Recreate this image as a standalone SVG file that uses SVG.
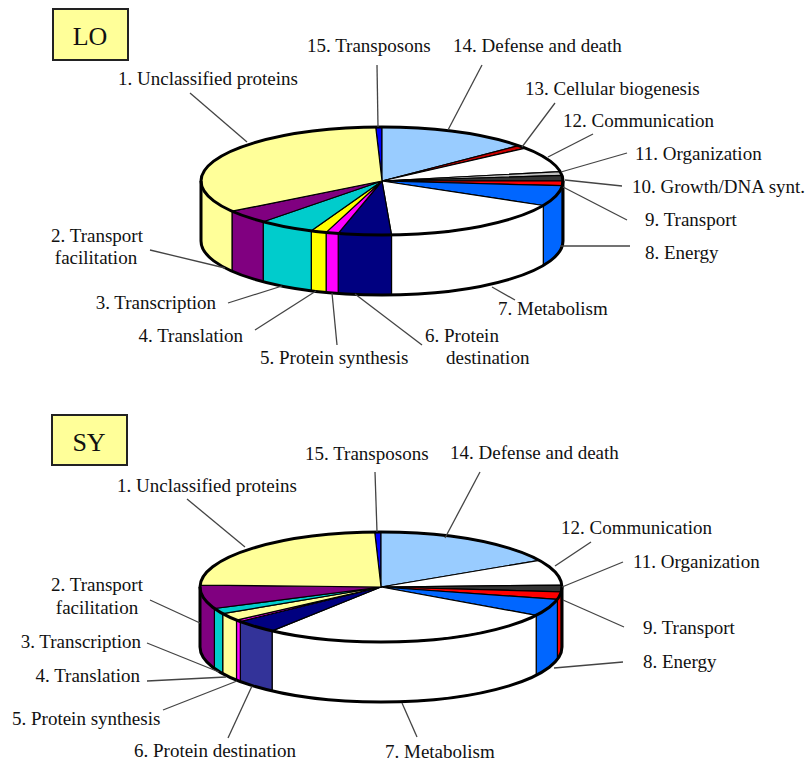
<svg xmlns="http://www.w3.org/2000/svg" width="805" height="763" viewBox="0 0 805 763">
<style>
.t{font-family:"Liberation Serif","Times New Roman",serif;font-size:19px;fill:#111}
.bt{font-family:"Liberation Serif","Times New Roman",serif;font-size:26px;fill:#111;text-anchor:middle}
.box{fill:#FFFF99;stroke:#222;stroke-width:2}
.s{stroke:#000;stroke-width:1.2;stroke-linejoin:round}
.ol{fill:none;stroke:#000;stroke-width:3}
.ld{fill:none;stroke:#444;stroke-width:1.3}
.e{text-anchor:end}
.m{text-anchor:middle}
</style>
<rect width="805" height="763" fill="#fff"/>

<!-- ===== LO ===== -->
<g id="lo-box"><rect class="box" x="53" y="9" width="75" height="51"/><text class="bt" x="90" y="45">LO</text></g>

<g id="lo-pie">
<g id="lo-s15"><path class="s" fill="#0000FF" d="M382 181 L375.7 127 A181 54 0 0 1 382 127 Z"/></g>
<g id="lo-s14"><path class="s" fill="#99CCFF" d="M382 181 L382 127 A181 54 0 0 1 518.6 145.6 Z"/></g>
<g id="lo-s13"><path class="s" fill="#CC0000" d="M382 181 L518.6 145.6 A181 54 0 0 1 525.6 148.1 Z"/></g>
<g id="lo-s12"><path class="s" fill="#FFFFFF" d="M382 181 L525.6 148.1 A181 54 0 0 1 560.2 171.6 Z"/></g>
<g id="lo-s11"><path class="s" fill="#C0C0C0" d="M382 181 L560.2 171.6 A181 54 0 0 1 562 175.4 Z"/></g>
<g id="lo-s10"><path class="s" fill="#333333" d="M382 181 L562 175.4 A181 54 0 0 1 563 181 Z"/></g>
<g id="lo-s9"><path class="s" fill="#FF0000" d="M382 181 L563 181 A181 54 0 0 1 562.3 185.7 Z"/>
<path class="s" fill="#FF0000" d="M563 181 L563 241 A181 54 0 0 1 562.3 245.7 L562.3 185.7 A181 54 0 0 0 563 181 Z"/></g>
<g id="lo-s8"><path class="s" fill="#0066FF" d="M382 181 L562.3 185.7 A181 54 0 0 1 543.3 205.5 Z"/>
<path class="s" fill="#0066FF" d="M562.3 185.7 L562.3 245.7 A181 54 0 0 1 543.3 265.5 L543.3 205.5 A181 54 0 0 0 562.3 185.7 Z"/></g>
<g id="lo-s7"><path class="s" fill="#FFFFFF" d="M382 181 L543.3 205.5 A181 54 0 0 1 391.5 234.9 Z"/>
<path class="s" fill="#FFFFFF" d="M543.3 205.5 L543.3 265.5 A181 54 0 0 1 391.5 294.9 L391.5 234.9 A181 54 0 0 0 543.3 205.5 Z"/></g>
<g id="lo-s6"><path class="s" fill="#000080" d="M382 181 L391.5 234.9 A181 54 0 0 1 338.2 233.4 Z"/>
<path class="s" fill="#000080" d="M391.5 234.9 L391.5 294.9 A181 54 0 0 1 338.2 293.4 L338.2 233.4 A181 54 0 0 0 391.5 234.9 Z"/></g>
<g id="lo-s5"><path class="s" fill="#FF00FF" d="M382 181 L338.2 233.4 A181 54 0 0 1 326.1 232.4 Z"/>
<path class="s" fill="#FF00FF" d="M338.2 233.4 L338.2 293.4 A181 54 0 0 1 326.1 292.4 L326.1 232.4 A181 54 0 0 0 338.2 233.4 Z"/></g>
<g id="lo-s4"><path class="s" fill="#FFFF00" d="M382 181 L326.1 232.4 A181 54 0 0 1 311.3 230.7 Z"/>
<path class="s" fill="#FFFF00" d="M326.1 232.4 L326.1 292.4 A181 54 0 0 1 311.3 290.7 L311.3 230.7 A181 54 0 0 0 326.1 232.4 Z"/></g>
<g id="lo-s3"><path class="s" fill="#00CCCC" d="M382 181 L311.3 230.7 A181 54 0 0 1 263.2 221.8 Z"/>
<path class="s" fill="#00CCCC" d="M311.3 230.7 L311.3 290.7 A181 54 0 0 1 263.2 281.8 L263.2 221.8 A181 54 0 0 0 311.3 230.7 Z"/></g>
<g id="lo-s2"><path class="s" fill="#800080" d="M382 181 L263.2 221.8 A181 54 0 0 1 232 211.2 Z"/>
<path class="s" fill="#800080" d="M263.2 221.8 L263.2 281.8 A181 54 0 0 1 232 271.2 L232 211.2 A181 54 0 0 0 263.2 221.8 Z"/></g>
<g id="lo-s1"><path class="s" fill="#FFFF99" d="M382 181 L232 211.2 A181 54 0 0 1 375.7 127 Z"/>
<path class="s" fill="#FFFF99" d="M232 211.2 L232 271.2 A181 54 0 0 1 201 241 L201 181 A181 54 0 0 0 232 211.2 Z"/></g>
<ellipse class="ol" cx="382" cy="181" rx="181" ry="54"/>
<path class="ol" d="M563 181 L563 241 A181 54 0 0 1 201 241 L201 181"/>
</g>

<g id="lo-labels">
<text class="t" x="118" y="85">1. Unclassified proteins</text>
<text class="t m" x="97" y="242">2. Transport</text>
<text class="t m" x="96" y="264">facilitation</text>
<text class="t e" x="216" y="309">3. Transcription</text>
<text class="t e" x="243" y="342">4. Translation</text>
<text class="t" x="260" y="364">5. Protein synthesis</text>
<text class="t" x="425" y="342">6. Protein</text>
<text class="t" x="446" y="364">destination</text>
<text class="t" x="498" y="315">7. Metabolism</text>
<text class="t" x="645" y="259">8. Energy</text>
<text class="t" x="645" y="226">9. Transport</text>
<text class="t" x="632" y="193">10. Growth/DNA synt.</text>
<text class="t" x="635" y="160">11. Organization</text>
<text class="t" x="563" y="127">12. Communication</text>
<text class="t" x="525" y="95">13. Cellular biogenesis</text>
<text class="t" x="453" y="52">14. Defense and death</text>
<text class="t" x="307" y="52">15. Transposons</text>
</g>

<g id="lo-connectors" class="ld">
<path d="M190 93 L247 142"/>
<path d="M377 65 L378 127"/>
<path d="M482 65 L448 130"/>
<path d="M555 103 L522 147"/>
<path d="M593 134 L548 157"/>
<path d="M627 153 L561 172"/>
<path d="M565 180 L622 186"/>
<path d="M563 187 L627 220"/>
<path d="M560 246 L630 246"/>
<path d="M492 287 L515 300"/>
<path d="M355 294 L422 345"/>
<path d="M332 293 L337 345"/>
<path d="M316 291 L255 330"/>
<path d="M282 286 L228 303"/>
<path d="M150 250 L225 268"/>
</g>

<!-- ===== SY ===== -->
<g id="sy-box"><rect class="box" x="52" y="415" width="75" height="50"/><text class="bt" x="89" y="451">SY</text></g>

<g id="sy-pie">
<g id="sy-s15"><path class="s" fill="#0000FF" d="M381 587 L374.7 532 A181 55 0 0 1 381 532 Z"/></g>
<g id="sy-s14"><path class="s" fill="#99CCFF" d="M381 587 L381 532 A181 55 0 0 1 539.3 560.3 Z"/></g>
<g id="sy-s12"><path class="s" fill="#FFFFFF" d="M381 587 L539.3 560.3 A181 55 0 0 1 561.9 585.1 Z"/></g>
<g id="sy-s11"><path class="s" fill="#333333" d="M381 587 L561.9 585.1 A181 55 0 0 1 561.3 591.8 Z"/>
<path class="s" fill="#333333" d="M562 587 L562 647 A181 55 0 0 1 561.3 651.8 L561.3 591.8 A181 55 0 0 0 562 587 Z"/></g>
<g id="sy-s9"><path class="s" fill="#FF0000" d="M381 587 L561.3 591.8 A181 55 0 0 1 557.4 599.4 Z"/>
<path class="s" fill="#FF0000" d="M561.3 591.8 L561.3 651.8 A181 55 0 0 1 557.4 659.4 L557.4 599.4 A181 55 0 0 0 561.3 591.8 Z"/></g>
<g id="sy-s8"><path class="s" fill="#0066FF" d="M381 587 L557.4 599.4 A181 55 0 0 1 536.2 615.3 Z"/>
<path class="s" fill="#0066FF" d="M557.4 599.4 L557.4 659.4 A181 55 0 0 1 536.2 675.3 L536.2 615.3 A181 55 0 0 0 557.4 599.4 Z"/></g>
<g id="sy-s7"><path class="s" fill="#FFFFFF" d="M381 587 L536.2 615.3 A181 55 0 0 1 272.1 630.9 Z"/>
<path class="s" fill="#FFFFFF" d="M536.2 615.3 L536.2 675.3 A181 55 0 0 1 272.1 690.9 L272.1 630.9 A181 55 0 0 0 536.2 615.3 Z"/></g>
<g id="sy-s6"><path class="s" fill="#000080" d="M381 587 L272.1 630.9 A181 55 0 0 1 240.3 621.6 Z"/>
<path class="s" fill="#333399" d="M272.1 630.9 L272.1 690.9 A181 55 0 0 1 240.3 681.6 L240.3 621.6 A181 55 0 0 0 272.1 630.9 Z"/></g>
<g id="sy-s5"><path class="s" fill="#FF00FF" d="M381 587 L240.3 621.6 A181 55 0 0 1 236.5 620.1 Z"/>
<path class="s" fill="#FF00FF" d="M240.3 621.6 L240.3 681.6 A181 55 0 0 1 236.5 680.1 L236.5 620.1 A181 55 0 0 0 240.3 621.6 Z"/></g>
<g id="sy-s4"><path class="s" fill="#FFFF99" d="M381 587 L236.5 620.1 A181 55 0 0 1 222.7 613.7 Z"/>
<path class="s" fill="#FFFF99" d="M236.5 620.1 L236.5 680.1 A181 55 0 0 1 222.7 673.7 L222.7 613.7 A181 55 0 0 0 236.5 620.1 Z"/></g>
<g id="sy-s3"><path class="s" fill="#00CCCC" d="M381 587 L222.7 613.7 A181 55 0 0 1 214.4 608.5 Z"/>
<path class="s" fill="#00CCCC" d="M222.7 613.7 L222.7 673.7 A181 55 0 0 1 214.4 668.5 L214.4 608.5 A181 55 0 0 0 222.7 613.7 Z"/></g>
<g id="sy-s2"><path class="s" fill="#800080" d="M381 587 L214.4 608.5 A181 55 0 0 1 200.1 585.1 Z"/>
<path class="s" fill="#800080" d="M214.4 608.5 L214.4 668.5 A181 55 0 0 1 200 647 L200 587 A181 55 0 0 0 214.4 608.5 Z"/></g>
<g id="sy-s1"><path class="s" fill="#FFFF99" d="M381 587 L200.1 585.1 A181 55 0 0 1 374.7 532 Z"/></g>
<ellipse class="ol" cx="381" cy="587" rx="181" ry="55"/>
<path class="ol" d="M562 587 L562 647 A181 55 0 0 1 200 647 L200 587"/>
</g>

<g id="sy-labels">
<text class="t" x="117" y="492">1. Unclassified proteins</text>
<text class="t m" x="97" y="591">2. Transport</text>
<text class="t m" x="97" y="614">facilitation</text>
<text class="t e" x="141" y="648">3. Transcription</text>
<text class="t e" x="140" y="682">4. Translation</text>
<text class="t" x="12" y="725">5. Protein synthesis</text>
<text class="t" x="134" y="757">6. Protein destination</text>
<text class="t" x="385" y="758">7. Metabolism</text>
<text class="t" x="643" y="668">8. Energy</text>
<text class="t" x="643" y="634">9. Transport</text>
<text class="t" x="633" y="568">11. Organization</text>
<text class="t" x="561" y="534">12. Communication</text>
<text class="t" x="450" y="459">14. Defense and death</text>
<text class="t" x="305" y="460">15. Transposons</text>
</g>

<g id="sy-connectors" class="ld">
<path d="M187 499 L245 547"/>
<path d="M375 472 L377 532"/>
<path d="M480 472 L445 538"/>
<path d="M591 542 L555 566"/>
<path d="M623 562 L562 587"/>
<path d="M563 600 L624 627"/>
<path d="M554 668 L623 662"/>
<path d="M402 703 L417 737"/>
<path d="M252 686 L228 738"/>
<path d="M237 681 L163 710"/>
<path d="M226 677 L147 681"/>
<path d="M219 672 L147 643"/>
<path d="M200 623 L150 600"/>
</g>
</svg>
